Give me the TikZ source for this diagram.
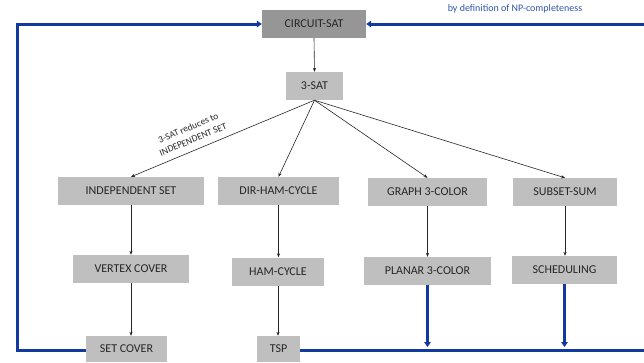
\documentclass[tikz,border=0pt]{standalone}
\usepackage{fontspec}
\setmainfont{Carlito}
\usepackage{xcolor}
\usepackage{tikz}
\usetikzlibrary{arrows.meta,positioning}
\definecolor{boxgray}{RGB}{191,191,191}
\definecolor{rootgray}{RGB}{150,150,150}
\definecolor{inkgray}{RGB}{38,38,38}
\definecolor{npblue}{RGB}{16,58,160}
\definecolor{noteblue}{RGB}{47,85,170}

\begin{document}
\begin{tikzpicture}[
    x=1pt, y=-1pt,
    prob/.style={fill=boxgray, inner sep=0pt, minimum height=28pt, text=inkgray,
                font=\fontsize{12}{14}\selectfont},
    reduce/.style={-{Stealth[length=4pt,width=3.2pt]}, line width=0.6pt, black!85},
    back/.style={line width=3pt, npblue},
    backarr/.style={back, -{Triangle[length=5pt,width=6.5pt]}},
    note/.style={inner sep=1pt, align=center}
]
\useasboundingbox (0,0) rectangle (644,362);

\node[prob, fill=rootgray, minimum width=104pt] (circ) at (314,24) {CIRCUIT-SAT};
\node[prob, minimum width=57pt] (sat) at (314.5,86) {3-SAT};
\node[prob, minimum width=146pt] (indset) at (131,191) {INDEPENDENT SET};
\node[prob, minimum width=121pt] (dhc) at (278.5,191) {DIR-HAM-CYCLE};
\node[prob, minimum width=119pt] (gcol) at (427.5,192) {GRAPH 3-COLOR};
\node[prob, minimum width=104pt] (ssum) at (565,192) {SUBSET-SUM};
\node[prob, minimum width=116pt] (vcov) at (131,269) {VERTEX COVER};
\node[prob, minimum width=92pt] (hcyc) at (278,271.5) {HAM-CYCLE};
\node[prob, minimum width=127pt] (pcol) at (427.5,271) {PLANAR 3-COLOR};
\node[prob, minimum width=105pt] (sched) at (564.5,270) {SCHEDULING};
\node[prob, minimum width=81pt, minimum height=26pt] (scov) at (126.5,349) {SET COVER};
\node[prob, minimum width=43pt, minimum height=26pt] (tsp) at (278.5,349) {TSP};
\node[note, text=noteblue, font=\fontsize{10}{12}\selectfont] (defn) at (515,9) {by definition of NP-completeness};

% corners of the feedback loop
\coordinate (lcorner) at (17,350);
\coordinate (rbot) at (644,350);
\coordinate (rtop) at (644,24);
\coordinate (bus) at (0,347);

\draw[reduce] (circ.south) -- (sat.north);
\draw[reduce] (sat.south) -- node[note, pos=0.64, sloped, above=6pt, text=inkgray,
    font=\fontsize{9.5}{12.5}\selectfont] {3-SAT reduces to\\INDEPENDENT SET} (indset.north);
\draw[reduce] (sat.south) -- (dhc.north);
\draw[reduce] (sat.south) -- (gcol.north);
\draw[reduce] (sat.south) -- (ssum.north);

\draw[reduce] (indset.south) -- (vcov.north);
\draw[reduce] (vcov.south) -- (vcov.south |- scov.north);
\draw[reduce] (dhc.south) -- (dhc.south |- hcyc.north);
\draw[reduce] (hcyc.south) -- (hcyc.south |- tsp.north);
\draw[reduce] (gcol.south) -- (pcol.north);
\draw[reduce] (ssum.south) -- (ssum.south |- sched.north);

% back to CIRCUIT-SAT
\draw[backarr] (scov.west |- lcorner) -- (lcorner) |- (circ.west);
\draw[back] (tsp.east |- rbot) -- (rbot);
\draw[backarr] (rtop) -- (circ.east);
\draw[backarr] (pcol.south) -- (pcol.south |- bus);
\draw[backarr] (sched.south) -- (sched.south |- bus);
\end{tikzpicture}
\end{document}
